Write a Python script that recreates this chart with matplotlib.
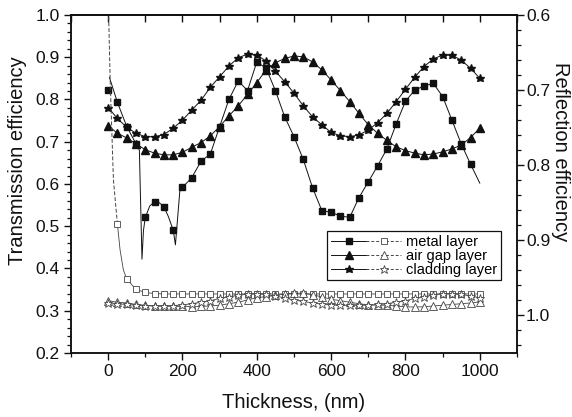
import matplotlib
matplotlib.use("Agg")
import matplotlib.pyplot as plt
from matplotlib.lines import Line2D
from matplotlib.legend_handler import HandlerTuple
from matplotlib.ticker import MultipleLocator, FormatStrFormatter
import numpy as np

plt.rcParams['font.family'] = ['Liberation Sans', 'DejaVu Sans']

# --- data ---
thickness = np.arange(0, 1001, 25)

metal_T = [0.822, 0.793, 0.736, 0.695, 0.521, 0.558, 0.546, 0.491,
           0.592, 0.615, 0.654, 0.671, 0.736, 0.800, 0.844, 0.821,
           0.889, 0.874, 0.821, 0.759, 0.712, 0.658, 0.591, 0.537,
           0.533, 0.524, 0.521, 0.568, 0.605, 0.643, 0.683, 0.742,
           0.796, 0.822, 0.832, 0.838, 0.807, 0.751, 0.695, 0.647, 0.602]
# extra points of the metal transmission curve below 200 nm (sharp dips)
metal_T_head_x = [3.5, 25, 50, 75, 84, 91, 95, 100, 112, 125, 137, 150, 162, 175, 181, 193]
metal_T_head_y = [0.852, 0.793, 0.736, 0.695, 0.680, 0.422, 0.490, 0.521, 0.548,
                  0.558, 0.556, 0.546, 0.523, 0.491, 0.456, 0.585]

airgap_T = [0.738, 0.720, 0.709, 0.695, 0.681, 0.673, 0.669, 0.669,
            0.675, 0.687, 0.698, 0.714, 0.736, 0.761, 0.785, 0.812,
            0.840, 0.870, 0.887, 0.897, 0.903, 0.901, 0.889, 0.870,
            0.846, 0.821, 0.795, 0.767, 0.740, 0.720, 0.703, 0.688,
            0.679, 0.673, 0.669, 0.671, 0.676, 0.683, 0.692, 0.710, 0.732]

cladding_T = [0.781, 0.755, 0.734, 0.720, 0.712, 0.712, 0.717, 0.732,
              0.751, 0.775, 0.798, 0.829, 0.854, 0.879, 0.899, 0.907,
              0.905, 0.891, 0.867, 0.842, 0.815, 0.785, 0.759, 0.740,
              0.722, 0.714, 0.712, 0.716, 0.728, 0.745, 0.767, 0.795,
              0.824, 0.853, 0.878, 0.896, 0.905, 0.905, 0.893, 0.874, 0.850]

metal_R = [0.40, 0.879, 0.952, 0.966, 0.970, 0.9715] + [0.972] * 35
# steep start of the metal reflection curve
metal_R_head_x = [0, 1.3, 5.4, 10, 14.2, 25]
metal_R_head_y = [0.40, 0.60, 0.687, 0.757, 0.82, 0.879]
metal_R_bend_x = [25, 32, 41, 50]
metal_R_bend_y = [0.879, 0.913, 0.940, 0.952]

airgap_R = [0.981, 0.983, 0.984, 0.986, 0.987, 0.988, 0.988, 0.9885,
            0.9885, 0.989, 0.9885, 0.988, 0.987, 0.985, 0.983, 0.980,
            0.977, 0.9755, 0.974, 0.972, 0.971, 0.971, 0.973, 0.976,
            0.979, 0.981, 0.983, 0.985, 0.9865, 0.987, 0.987, 0.988,
            0.989, 0.9895, 0.989, 0.988, 0.987, 0.986, 0.985, 0.984, 0.9825]

cladding_R = [0.9836, 0.985, 0.986, 0.987, 0.9875, 0.988, 0.988, 0.9875,
              0.9865, 0.985, 0.983, 0.981, 0.978, 0.9756, 0.9738, 0.972,
              0.9716, 0.9727, 0.9747, 0.9773, 0.980, 0.982, 0.984, 0.9855,
              0.9865, 0.987, 0.987, 0.987, 0.987, 0.986, 0.985, 0.983,
              0.981, 0.978, 0.9756, 0.9733, 0.9716, 0.9716, 0.9727, 0.9747, 0.977]

labels = ['metal layer', 'air gap layer', 'cladding layer']

# --- figure ---
fig = plt.figure(figsize=(5.72, 4.17), dpi=100, facecolor='white')
ax = fig.add_axes([0.1241, 0.1535, 0.7797, 0.8106])
ax2 = ax.twinx()

lw = 0.7
ink = '#111111'

# transmission (left axis, filled markers)
ax.plot(metal_T_head_x + list(thickness[8:]), metal_T_head_y + metal_T[8:],
        color=ink, lw=lw, zorder=3)
ax.plot(thickness[:-1], metal_T[:-1], ls='none', marker='s', ms=4.6, color=ink, zorder=4)
ax.plot(thickness, airgap_T, color=ink, lw=lw, marker='^', ms=5.2, zorder=4)
ax.plot(thickness, cladding_T, color=ink, lw=lw, marker='*', ms=6.2, zorder=4)

# reflection (right axis, hollow markers)
gray = '#444444'
ax2.plot(metal_R_head_x, metal_R_head_y, color=gray, lw=0.7, ls=(0, (4, 2)))
ax2.plot(metal_R_bend_x + list(thickness[3:]), metal_R_bend_y + metal_R[3:], color=gray, lw=0.6)
ax2.plot(thickness[1:], metal_R[1:], ls='none', marker='s', ms=4.4, mfc='white',
         mec=gray, mew=0.6)
ax2.plot(thickness, airgap_R, color=gray, lw=0.6, marker='^', ms=5.4, mfc='white',
         mec=gray, mew=0.6)
ax2.plot(thickness, cladding_R, color=gray, lw=0.6, marker='*', ms=6.4, mfc='white',
         mec=gray, mew=0.6)

# axes ranges and ticks
ax.set_xlim(-100, 1100)
ax.set_ylim(0.2, 1.0)
ax2.set_ylim(1.0507, 0.6)

ax.xaxis.set_major_locator(MultipleLocator(200))
ax.xaxis.set_minor_locator(MultipleLocator(100))
ax.yaxis.set_major_locator(MultipleLocator(0.1))
ax.yaxis.set_minor_locator(MultipleLocator(0.02))
ax.yaxis.set_major_formatter(FormatStrFormatter('%.1f'))
ax2.yaxis.set_major_locator(MultipleLocator(0.1))
ax2.yaxis.set_minor_locator(MultipleLocator(0.02))
ax2.yaxis.set_major_formatter(FormatStrFormatter('%.1f'))

for a in (ax, ax2):
    a.tick_params(which='major', direction='out', length=5, width=1.0,
                  labelsize=12.5, color=ink, labelcolor=ink, pad=3)
    a.tick_params(which='minor', direction='out', length=3, width=0.9, color=ink)
    for s in a.spines.values():
        s.set_linewidth(1.1)
        s.set_color(ink)
ax2.tick_params(which='major', pad=1.5)

top = ax.secondary_xaxis('top')
top.set_xticks(np.arange(-100, 1101, 100))
top.tick_params(direction='in', length=5, width=1.0, labeltop=False, color=ink)
top.spines['top'].set_linewidth(1.1)

ax.set_xlabel('Thickness, (nm)', fontsize=14.5, color=ink, labelpad=10)
ax.set_ylabel('Transmission efficiency', fontsize=14.5, color=ink,
              ha='center', va='center')
ax.yaxis.set_label_coords(-0.119, 0.57)
ax2.set_ylabel('Reflection efficiency', fontsize=14.5, color=ink, rotation=270,
               ha='center', va='center')
ax2.yaxis.set_label_coords(1.097, 0.595)

# legend: solid/filled then dashed/hollow for each layer
markers = [('s', 4.6, 4.4), ('^', 5.2, 5.4), ('*', 6.2, 6.4)]
handles = []
for m, ms_f, ms_h in markers:
    h1 = Line2D([], [], color=ink, lw=lw, marker=m, ms=ms_f)
    h2 = Line2D([], [], color=gray, lw=0.7, ls=(0, (3, 2)), marker=m, ms=ms_h,
                mfc='white', mec=gray, mew=0.6)
    handles.append((h1, h2))
leg = ax.legend(handles, labels, handler_map={tuple: HandlerTuple(ndivide=None, pad=0)},
                loc='upper right', bbox_to_anchor=(0.964, 0.361), borderaxespad=0,
                fontsize=10.5, handlelength=4.8, handletextpad=0.35, labelspacing=0.0,
                borderpad=0.25, fancybox=False, framealpha=1, edgecolor=ink)
leg.get_frame().set_linewidth(0.9)
leg.set_zorder(10)

fig.savefig('out.png', dpi=100, facecolor='white')
